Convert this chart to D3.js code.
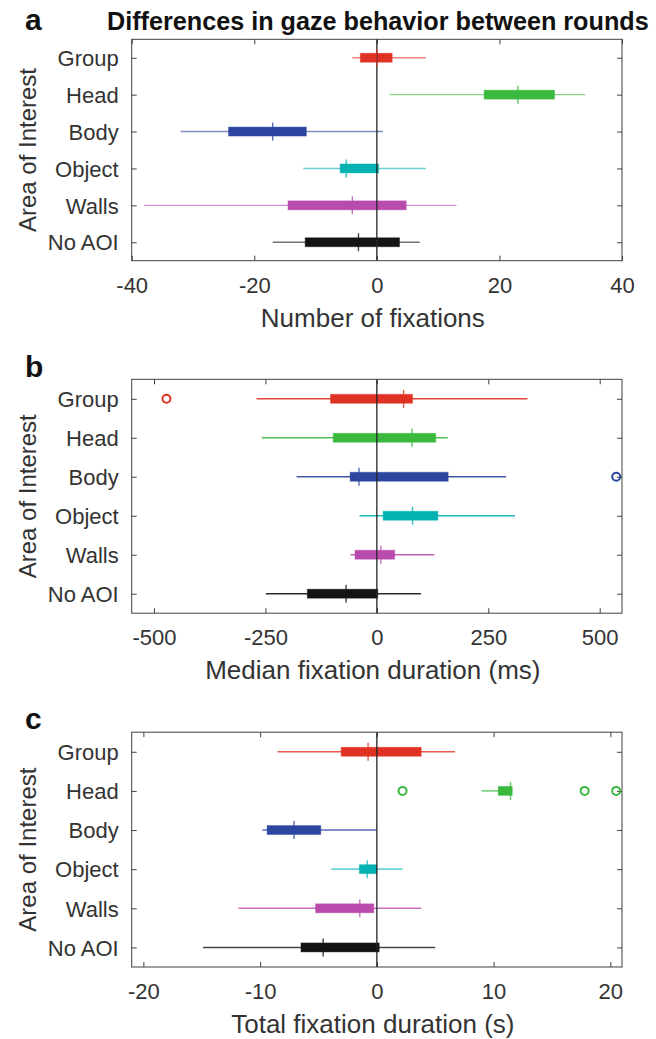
<!DOCTYPE html>
<html>
<head>
<meta charset="utf-8">
<script src="https://d3js.org/d3.v7.min.js"></script>
<style>
  body { margin: 0; background: #fff; }
  svg { font-family: "Liberation Sans", Arial, Helvetica, sans-serif; }
</style>
</head>
<body>
<svg id="chart" width="656" height="1039"></svg>
<script>
// areas of interest, top to bottom
const areas = ["Group", "Head", "Body", "Object", "Walls", "No AOI"];
const areaColors = ["#e03224", "#3bb93f", "#2c46a0", "#05b2b2", "#b84bac", "#141414"];

// each row: [lower whisker, Q1, median, Q3, upper whisker]
const fixationCount = [
  [-4.0, -2.7, 0.0, 2.5, 8.0],
  [2.1, 17.5, 23.0, 29.0, 34.0],
  [-32.0, -24.2, -17.0, -11.5, 1.0],
  [-12.0, -6.0, -5.0, 0.3, 8.0],
  [-38.0, -14.5, -4.0, 4.8, 13.0],
  [-17.0, -11.7, -3.0, 3.7, 7.0]
];
const fixationCountOutliers = [];

const medianDuration = [
  [-270, -104, 60, 80, 338],
  [-258, -98, 79, 132, 159],
  [-180, -60, -40, 160, 290],
  [-39, 14, 80, 137, 310],
  [-59, -49, 9, 40, 129],
  [-249, -156, -69, 2, 99]
];
// [row index, value]
const medianDurationOutliers = [[0, -472], [2, 537]];

const totalDuration = [
  [-8.5, -3.06, -0.75, 3.8, 6.7],
  [8.96, 10.4, 11.45, 11.6, 11.6],
  [-9.8, -9.4, -7.1, -4.8, 0.0],
  [-3.9, -1.5, -0.83, 0.0, 2.2],
  [-11.85, -5.25, -1.46, -0.26, 3.8],
  [-14.9, -6.5, -4.6, 0.2, 5.0]
];
const totalDurationOutliers = [[1, 2.2], [1, 17.8], [1, 20.5]];

const ticksA = [-40, -20, 0, 20, 40];
const ticksB = [-500, -250, 0, 250, 500];
const ticksC = [-20, -10, 0, 10, 20];

const panels = [
  { letter: "a", rows: fixationCount, outliers: fixationCountOutliers, domain: [-40, 40], ticks: ticksA,
    xlabel: "Number of fixations", top: 39.3, bottom: 260.7, letterY: 30, whiskerOpacity: 0.6 },
  { letter: "b", rows: medianDuration, outliers: medianDurationOutliers, domain: [-550, 550], ticks: ticksB,
    xlabel: "Median fixation duration (ms)", top: 379.3, bottom: 613.2, letterY: 377, whiskerOpacity: 0.9 },
  { letter: "c", rows: totalDuration, outliers: totalDurationOutliers, domain: [-21, 21], ticks: ticksC,
    xlabel: "Total fixation duration (s)", top: 732.2, bottom: 967, letterY: 729, whiskerOpacity: 0.8 }
];

const svg = d3.select("#chart");
const left = 131.7, right = 622;
const axisColor = "#404040", textColor = "#333";

svg.append("text")
  .attr("x", 107).attr("y", 29.5)
  .attr("font-size", 25.2).attr("font-weight", "bold").attr("fill", "#111")
  .text("Differences in gaze behavior between rounds");

panels.forEach(function (p) {
  const xs = d3.scaleLinear().domain(p.domain).range([left, right]);
  const ys = d3.scaleLinear().domain([0.5, 6.5]).range([p.top, p.bottom]);
  const g = svg.append("g");

  // panel letter
  g.append("text").attr("x", 25).attr("y", p.letterY)
    .attr("font-size", 30).attr("font-weight", "bold").attr("fill", "#111")
    .text(p.letter);

  // x axis (bottom) with inward ticks, plus top ticks
  g.append("g")
    .attr("transform", "translate(0," + p.bottom + ")")
    .call(d3.axisBottom(xs).tickValues(p.ticks).tickSizeInner(-5).tickSizeOuter(0).tickPadding(0)
      .tickFormat((d) => String(d)))
    .call(function (a) {
      a.select(".domain").remove();
      a.selectAll("line").attr("stroke", axisColor);
      a.selectAll("text").attr("y", 32).attr("dy", null)
        .attr("font-size", 22).attr("fill", textColor).attr("font-family", null);
    });
  g.append("g")
    .attr("transform", "translate(0," + p.top + ")")
    .call(d3.axisTop(xs).tickValues(p.ticks).tickSizeInner(-5).tickSizeOuter(0).tickFormat(""))
    .call(function (a) {
      a.select(".domain").remove();
      a.selectAll("line").attr("stroke", axisColor);
    });

  // y axis with category labels
  const yTickVals = areas.map((d, i) => i + 1);
  g.append("g")
    .attr("transform", "translate(" + left + ",0)")
    .call(d3.axisLeft(ys).tickValues(yTickVals).tickSizeInner(-5).tickSizeOuter(0)
      .tickFormat((d) => areas[d - 1]))
    .call(function (a) {
      a.select(".domain").remove();
      a.selectAll("line").attr("stroke", axisColor);
      a.selectAll("text").attr("x", -13).attr("dy", "0.35em")
        .attr("font-size", 22).attr("fill", textColor).attr("font-family", null);
    });
  g.append("g")
    .attr("transform", "translate(" + right + ",0)")
    .call(d3.axisRight(ys).tickValues(yTickVals).tickSizeInner(-5).tickSizeOuter(0).tickFormat(""))
    .call(function (a) {
      a.select(".domain").remove();
      a.selectAll("line").attr("stroke", axisColor);
    });

  // whiskers
  g.selectAll(".whisker").data(p.rows).enter().append("line")
    .attr("x1", (d) => xs(d[0])).attr("x2", (d) => xs(d[4]))
    .attr("y1", (d, i) => ys(i + 1)).attr("y2", (d, i) => ys(i + 1))
    .attr("stroke", (d, i) => areaColors[i])
    .attr("stroke-opacity", p.whiskerOpacity)
    .attr("stroke-width", 1.4);

  // boxes
  g.selectAll(".box").data(p.rows).enter().append("rect")
    .attr("x", (d) => xs(d[1]))
    .attr("width", (d) => Math.max(0, xs(d[3]) - xs(d[1])))
    .attr("y", (d, i) => ys(i + 1) - 4.5)
    .attr("height", 9)
    .attr("fill", (d, i) => areaColors[i])
    .attr("stroke", (d, i) => areaColors[i])
    .attr("stroke-opacity", 0.4)
    .attr("stroke-width", 1);

  // zero line
  g.append("line")
    .attr("x1", xs(0)).attr("x2", xs(0))
    .attr("y1", p.top).attr("y2", p.bottom)
    .attr("stroke", "#222").attr("stroke-width", 1.3);

  // medians
  g.selectAll(".median").data(p.rows).enter().append("line")
    .attr("x1", (d) => xs(d[2])).attr("x2", (d) => xs(d[2]))
    .attr("y1", (d, i) => ys(i + 1) - 9).attr("y2", (d, i) => ys(i + 1) + 9)
    .attr("stroke", (d, i) => areaColors[i])
    .attr("stroke-opacity", 0.8)
    .attr("stroke-width", 1.4);

  // outliers
  g.selectAll(".outlier").data(p.outliers).enter().append("circle")
    .attr("cx", (d) => xs(d[1])).attr("cy", (d) => ys(d[0] + 1))
    .attr("r", 4)
    .attr("fill", "none")
    .attr("stroke", (d) => areaColors[d[0]])
    .attr("stroke-width", 2);

  // axes box
  g.append("rect")
    .attr("x", left).attr("y", p.top)
    .attr("width", right - left).attr("height", p.bottom - p.top)
    .attr("fill", "none").attr("stroke", axisColor).attr("stroke-width", 1);

  // axis labels
  g.append("text")
    .attr("x", (left + right) / 2 - 4).attr("y", p.bottom + 66)
    .attr("text-anchor", "middle").attr("font-size", 26).attr("fill", textColor)
    .text(p.xlabel);
  g.append("text")
    .attr("transform", "translate(36," + ((p.top + p.bottom) / 2) + ") rotate(-90)")
    .attr("text-anchor", "middle").attr("font-size", 24).attr("fill", textColor)
    .text("Area of Interest");
});
</script>
</body>
</html>
